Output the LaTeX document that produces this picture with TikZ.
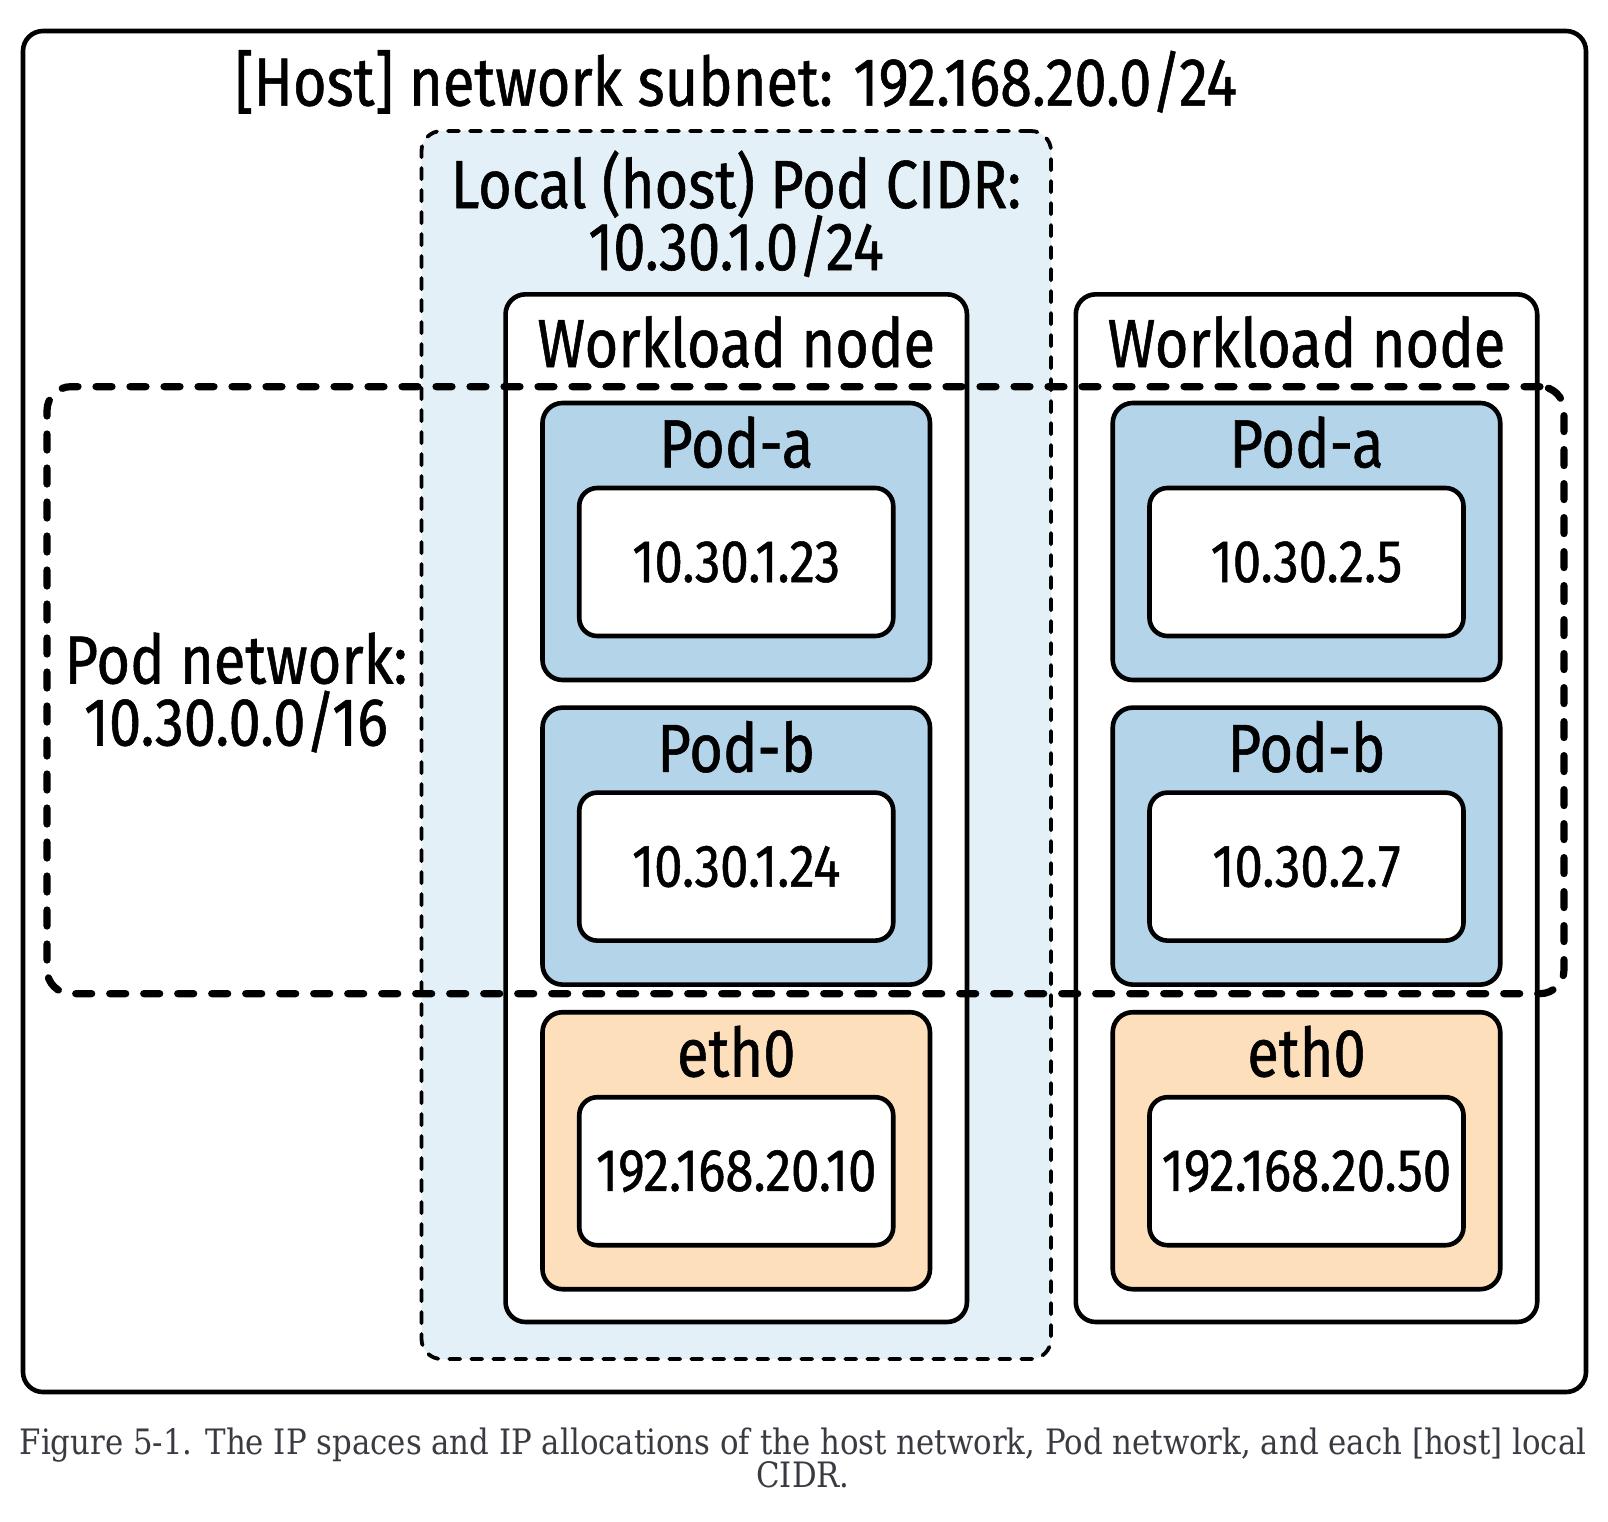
\documentclass[tikz,border=0pt]{standalone}
\usepackage{fontspec}
\setmainfont{Fira Sans}[FakeStretch=0.85, FakeBold=0.8]
\newfontfamily\capfont{DejaVu Serif}[FakeStretch=0.88]
\usetikzlibrary{positioning}
\definecolor{podblue}{HTML}{B3D4E9}
\definecolor{ethorange}{HTML}{FDDFBC}
\definecolor{cidrblue}{HTML}{E3F0F8}
\definecolor{capgray}{HTML}{3A3A42}
\newcommand\tightlines{\lineskiplimit=-40pt\relax}

\begin{document}
\begin{tikzpicture}[
  x=0.5pt, y=-0.5pt,
  node distance=11.5pt,
  box/.style={draw, line width=2.3pt, rounded corners=10pt, inner sep=0pt},
  workload/.style={box, fill=white, minimum width=230.7pt, minimum height=513.85pt},
  podbox/.style={box, fill=podblue, minimum width=193.75pt, minimum height=138.5pt},
  ethbox/.style={podbox, fill=ethorange},
  ipbox/.style={box, rounded corners=9pt, fill=white, minimum width=157pt, minimum height=74pt, font=\fontsize{30}{34}\selectfont},
  tag/.style={font=\fontsize{34}{31}\selectfont\tightlines, inner sep=0pt, align=center},
  cidr/.style={draw, line width=1.9pt, line cap=round, dash pattern=on 5.5pt off 5.5pt, fill=cidrblue, rounded corners=10pt, minimum width=314.75pt, minimum height=614pt},
  podnet/.style={draw, line width=3.6pt, line cap=round, dash pattern=on 8pt off 9pt, rounded corners=12pt, minimum width=758.5pt, minimum height=303.5pt}
]
\useasboundingbox (0,0) rectangle (1608,1522);

% host network
\node[box, minimum width=781.5pt, minimum height=680.5pt] (host) at (804.5,711.5) {};
\node[tag, anchor=base] (hostlbl) at (736,105.6) {[Host] network subnet: 192.168.20.0/24};

% local pod CIDR
\node[cidr] (cidr) at (736.25,745) {};
\node[tag, anchor=base] (cidrlbl) at (736,270) {Local (host) Pod CIDR:\\10.30.1.0/24};

% first workload node
\node[workload] (wl1) at (736.25,808.15) {};
\node[tag, anchor=base] (wl1lbl) at (736.25,367) {Workload node};
\node[podbox] (poda1) at (736.25,541.5) {};
\node[podbox, below=of poda1] (podb1) {};
\node[ethbox, below=of podb1] (eth1) {};
\node[tag, anchor=base] (poda1lbl) at ([yshift=-33.3pt]poda1.north) {Pod-a};
\node[tag, anchor=base] (podb1lbl) at ([yshift=-33.3pt]podb1.north) {Pod-b};
\node[tag, anchor=base] (eth1lbl) at ([yshift=-33.3pt]eth1.north) {eth0};
\node[ipbox, above=22pt of poda1.south] (ipa1) {10.30.1.23};
\node[ipbox, above=22pt of podb1.south] (ipb1) {10.30.1.24};
\node[ipbox, above=22pt of eth1.south] (ipe1) {192.168.20.10};

% second workload node
\node[workload] (wl2) at (1306.5,808.15) {};
\node[tag, anchor=base] (wl2lbl) at (1306.5,367) {Workload node};
\node[podbox] (poda2) at (1306.5,541.5) {};
\node[podbox, below=of poda2] (podb2) {};
\node[ethbox, below=of podb2] (eth2) {};
\node[tag, anchor=base] (poda2lbl) at ([yshift=-33.3pt]poda2.north) {Pod-a};
\node[tag, anchor=base] (podb2lbl) at ([yshift=-33.3pt]podb2.north) {Pod-b};
\node[tag, anchor=base] (eth2lbl) at ([yshift=-33.3pt]eth2.north) {eth0};
\node[ipbox, above=22pt of poda2.south] (ipa2) {10.30.2.5};
\node[ipbox, above=22pt of podb2.south] (ipb2) {10.30.2.7};
\node[ipbox, above=22pt of eth2.south] (ipe2) {192.168.20.50};

% pod network
\node[podnet] (podnet) at (805.5,690.15) {};
\node[tag, anchor=base] (podnetlbl) at (236,745.5) {Pod network:\\10.30.0.0/16};

% caption
\node[font=\capfont\fontsize{17.5}{16.4}\selectfont\tightlines, text=capgray, align=center, anchor=base, inner sep=0pt] (caption) at (803,1487)
  {Figure 5-1. The IP spaces and IP allocations of the host network, Pod network, and each [host] local\\CIDR.};
\end{tikzpicture}
\end{document}
